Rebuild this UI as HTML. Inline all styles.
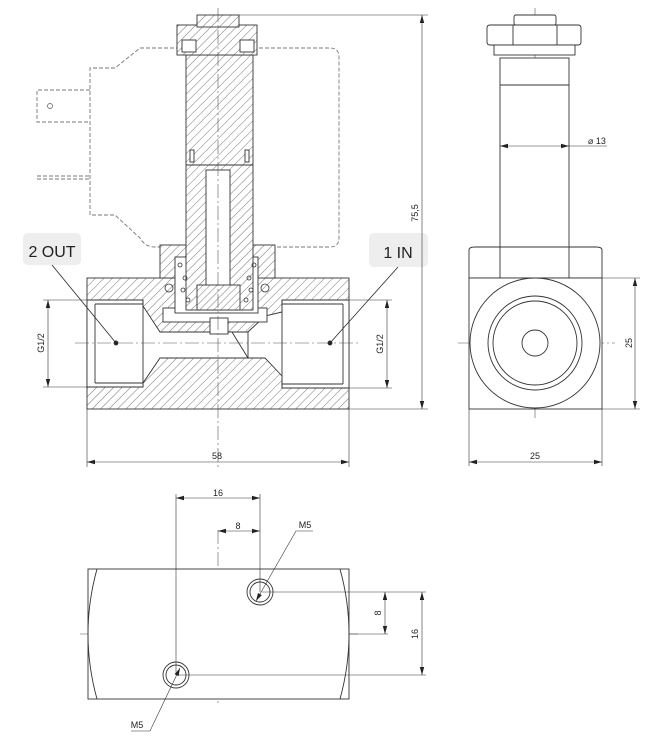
<!DOCTYPE html>
<html><head><meta charset="utf-8"><style>
html,body{margin:0;padding:0;background:#fff}
svg{display:block}
text{font-family:"Liberation Sans",sans-serif;fill:#222}
</style></head><body>
<svg width="657" height="736" viewBox="0 0 657 736" xmlns="http://www.w3.org/2000/svg">
<defs>
<pattern id="h" width="6" height="6" patternUnits="userSpaceOnUse" patternTransform="rotate(45)">
<rect width="6" height="6" fill="#fff"/><line x1="0" y1="0" x2="0" y2="6" stroke="#555" stroke-width="0.8"/>
</pattern>
<pattern id="h2" width="5" height="5" patternUnits="userSpaceOnUse" patternTransform="rotate(45)">
<rect width="5" height="5" fill="#fff"/><line x1="0" y1="0" x2="0" y2="5" stroke="#555" stroke-width="0.8"/>
</pattern>
<marker id="a" markerWidth="8" markerHeight="6" refX="8" refY="3" orient="auto-start-reverse" markerUnits="userSpaceOnUse"><path d="M0,0.8 L8,3 L0,5.2z" fill="#222"/></marker>
</defs>
<g stroke="#333" stroke-width="0.9" fill="none">
<!-- coil dashed -->
<path d="M186,48 L140,48 L115,68 L90,68 L90,215 L115,215 L140,238 Q145,247 155,247 L186,247 M253,48 L330,48 Q339,48 339,57 L339,238 Q339,247 330,247 L253,247" stroke="#777" stroke-dasharray="4,2"/>
<path d="M90,90 L37,90 L37,122 L90,122 M37,176 L90,176 M37,179 L90,179" stroke="#777" stroke-dasharray="4,2"/>
<circle cx="50" cy="106" r="2.5" stroke="#777"/>
<!-- body -->
<rect x="87" y="278" width="262" height="131" fill="url(#h)"/>
<rect x="160" y="245" width="115" height="33" fill="url(#h)"/>
<path d="M87,300 L143,300 L143,306 L160,332 L232,332 L248,332 L265,316 L282,312 L282,300 L349,300 L349,388 L282,388 L282,376 L265,358 L248,358 L160,358 L143,383 L143,387 L87,387 Z" fill="#fff"/>
<line x1="95" y1="304" x2="143" y2="304"/><line x1="95" y1="383" x2="143" y2="383"/><line x1="95" y1="304" x2="95" y2="383"/><line x1="143" y1="300" x2="143" y2="387"/>
<line x1="282" y1="304" x2="343" y2="304"/><line x1="282" y1="384" x2="343" y2="384"/><line x1="343" y1="304" x2="343" y2="384"/><line x1="282" y1="300" x2="282" y2="388"/>
<path d="M232,332 L248,358 M248,332 L248,358" />
<rect x="163" y="308" width="104" height="14" fill="#fff"/>
<rect x="175" y="257" width="83" height="56" fill="#fff"/>
<rect x="210" y="318" width="18" height="16" fill="#fff"/>
<!-- tube -->
<rect x="186" y="55" width="67" height="255" fill="url(#h)"/>
<line x1="186" y1="165" x2="253" y2="165"/>
<rect x="206" y="170" width="24" height="120" fill="#fff"/>
<rect x="197" y="285" width="43" height="25" fill="url(#h2)"/>
<rect x="190" y="150" width="4" height="12" fill="#fff"/><rect x="245" y="150" width="4" height="12" fill="#fff"/>
<!-- nut -->
<rect x="177" y="25" width="80" height="30" fill="url(#h)"/>
<rect x="197" y="15" width="42" height="12" fill="url(#h)"/>
<rect x="182" y="40" width="14" height="12" fill="#fff"/><rect x="240" y="40" width="14" height="12" fill="#fff"/>
<!-- springs -->
<g stroke-width="0.8">
<circle cx="180" cy="265" r="2"/><circle cx="185" cy="278" r="2"/><circle cx="183" cy="290" r="2"/><circle cx="188" cy="300" r="2"/>
<circle cx="254" cy="265" r="2"/><circle cx="249" cy="278" r="2"/><circle cx="251" cy="290" r="2"/><circle cx="246" cy="300" r="2"/>
<circle cx="169" cy="288" r="4"/><circle cx="265" cy="288" r="4"/>
</g>
<!-- centerlines -->
<g stroke="#555" stroke-width="0.6" stroke-dasharray="14,3,2,3">
<line x1="218" y1="8" x2="218" y2="470"/>
<line x1="75" y1="343" x2="360" y2="343"/>
<line x1="535" y1="8" x2="535" y2="420"/>
<line x1="458" y1="343" x2="615" y2="343"/>
<line x1="80" y1="634" x2="360" y2="634"/>
<line x1="218" y1="530" x2="218" y2="705"/>
</g>
<!-- labels -->
<rect x="23" y="233" width="58" height="32" rx="5" fill="#eee" stroke="none"/>
<rect x="369" y="233" width="59" height="34" rx="5" fill="#eee" stroke="none"/>
<line x1="52" y1="265" x2="116" y2="343"/><circle cx="116" cy="343" r="2" fill="#222"/>
<line x1="398" y1="267" x2="330" y2="343"/><circle cx="330" cy="343" r="2" fill="#222"/>
<!-- dims main -->
<g stroke-width="0.6">
<line x1="239" y1="15" x2="428" y2="15"/><line x1="349" y1="409" x2="428" y2="409"/>
<line x1="422" y1="15" x2="422" y2="409" marker-start="url(#a)" marker-end="url(#a)"/>
<line x1="87" y1="409" x2="87" y2="467"/><line x1="349" y1="409" x2="349" y2="467"/>
<line x1="87" y1="462" x2="349" y2="462" marker-start="url(#a)" marker-end="url(#a)"/>
<line x1="43" y1="300" x2="87" y2="300"/><line x1="43" y1="387" x2="87" y2="387"/>
<line x1="48" y1="300" x2="48" y2="387" marker-start="url(#a)" marker-end="url(#a)"/>
<line x1="349" y1="300" x2="392" y2="300"/><line x1="349" y1="388" x2="392" y2="388"/>
<line x1="387" y1="300" x2="387" y2="388" marker-start="url(#a)" marker-end="url(#a)"/>
</g>
<!-- right view -->
<rect x="514" y="15" width="42" height="10" rx="2" fill="#fff"/>
<path d="M487,28 Q487,25 490,25 L578,25 Q581,25 581,28 L581,42 Q581,45 578,45 L490,45 Q487,45 487,42 Z" fill="#fff"/>
<line x1="513" y1="25" x2="513" y2="45"/><line x1="557" y1="25" x2="557" y2="45"/>
<rect x="494" y="45" width="81" height="10" fill="#fff"/>
<rect x="500" y="58" width="69" height="189" fill="#fff"/>
<line x1="500" y1="85" x2="569" y2="85"/>
<path d="M469,250 Q469,247 475,247 L596,247 Q602,247 602,250 L602,278 L469,278 Z" fill="#fff"/>
<line x1="500" y1="247" x2="500" y2="278"/><line x1="569" y1="247" x2="569" y2="278"/>
<rect x="469" y="278" width="133" height="131" fill="#fff"/>
<circle cx="535" cy="343" r="65"/><circle cx="535" cy="343" r="47"/><circle cx="535" cy="343" r="42"/><circle cx="535" cy="343" r="13"/>
<g stroke-width="0.6">
<line x1="500" y1="146" x2="569" y2="146" marker-start="url(#a)" marker-end="url(#a)"/><line x1="569" y1="146" x2="607" y2="146"/>
<line x1="602" y1="278" x2="640" y2="278"/><line x1="602" y1="409" x2="640" y2="409"/>
<line x1="635" y1="278" x2="635" y2="409" marker-start="url(#a)" marker-end="url(#a)"/>
<line x1="469" y1="409" x2="469" y2="466"/><line x1="602" y1="409" x2="602" y2="466"/>
<line x1="469" y1="462" x2="602" y2="462" marker-start="url(#a)" marker-end="url(#a)"/>
</g>
<!-- bottom view -->
<rect x="88" y="569" width="261" height="130" fill="#fff"/>
<path d="M97,569 Q79,634 97,699 M340,569 Q358,634 340,699"/>
<circle cx="260" cy="592" r="13"/><circle cx="260" cy="592" r="10"/>
<circle cx="176" cy="675" r="13"/><circle cx="176" cy="675" r="10"/>
<g stroke-width="0.6">
<line x1="176" y1="494" x2="176" y2="675"/><line x1="260" y1="494" x2="260" y2="592"/>
<line x1="176" y1="498" x2="260" y2="498" marker-start="url(#a)" marker-end="url(#a)"/>
<line x1="218" y1="531" x2="260" y2="531" marker-start="url(#a)" marker-end="url(#a)"/>
<line x1="262" y1="592" x2="426" y2="592"/><line x1="178" y1="675" x2="426" y2="675"/><line x1="349" y1="634" x2="388" y2="634"/>
<line x1="385" y1="592" x2="385" y2="634" marker-start="url(#a)" marker-end="url(#a)"/>
<line x1="422" y1="592" x2="422" y2="675" marker-start="url(#a)" marker-end="url(#a)"/>
<polyline points="313,531 296,531 256,601" marker-end="url(#a)"/>
<polyline points="131,731 150,731 180,668" marker-end="url(#a)"/>
</g>
</g>
<g font-size="9">
<text x="217" y="459" text-anchor="middle">58</text>
<text x="535" y="459" text-anchor="middle">25</text>
<text x="588" y="144">⌀ 13</text>
<text transform="translate(418,213) rotate(-90)" text-anchor="middle">75,5</text>
<text transform="translate(44,343) rotate(-90)" text-anchor="middle">G1/2</text>
<text transform="translate(383,344) rotate(-90)" text-anchor="middle">G1/2</text>
<text transform="translate(632,343) rotate(-90)" text-anchor="middle">25</text>
<text x="218" y="496" text-anchor="middle">16</text>
<text x="238" y="529" text-anchor="middle">8</text>
<text x="305" y="528" text-anchor="middle">M5</text>
<text x="137" y="728" text-anchor="middle">M5</text>
<text transform="translate(381,613) rotate(-90)" text-anchor="middle">8</text>
<text transform="translate(418,634) rotate(-90)" text-anchor="middle">16</text>
</g>
<text x="52" y="257" font-size="16" text-anchor="middle">2 OUT</text>
<text x="398" y="258" font-size="16" text-anchor="middle">1 IN</text>
</svg>
</body></html>
